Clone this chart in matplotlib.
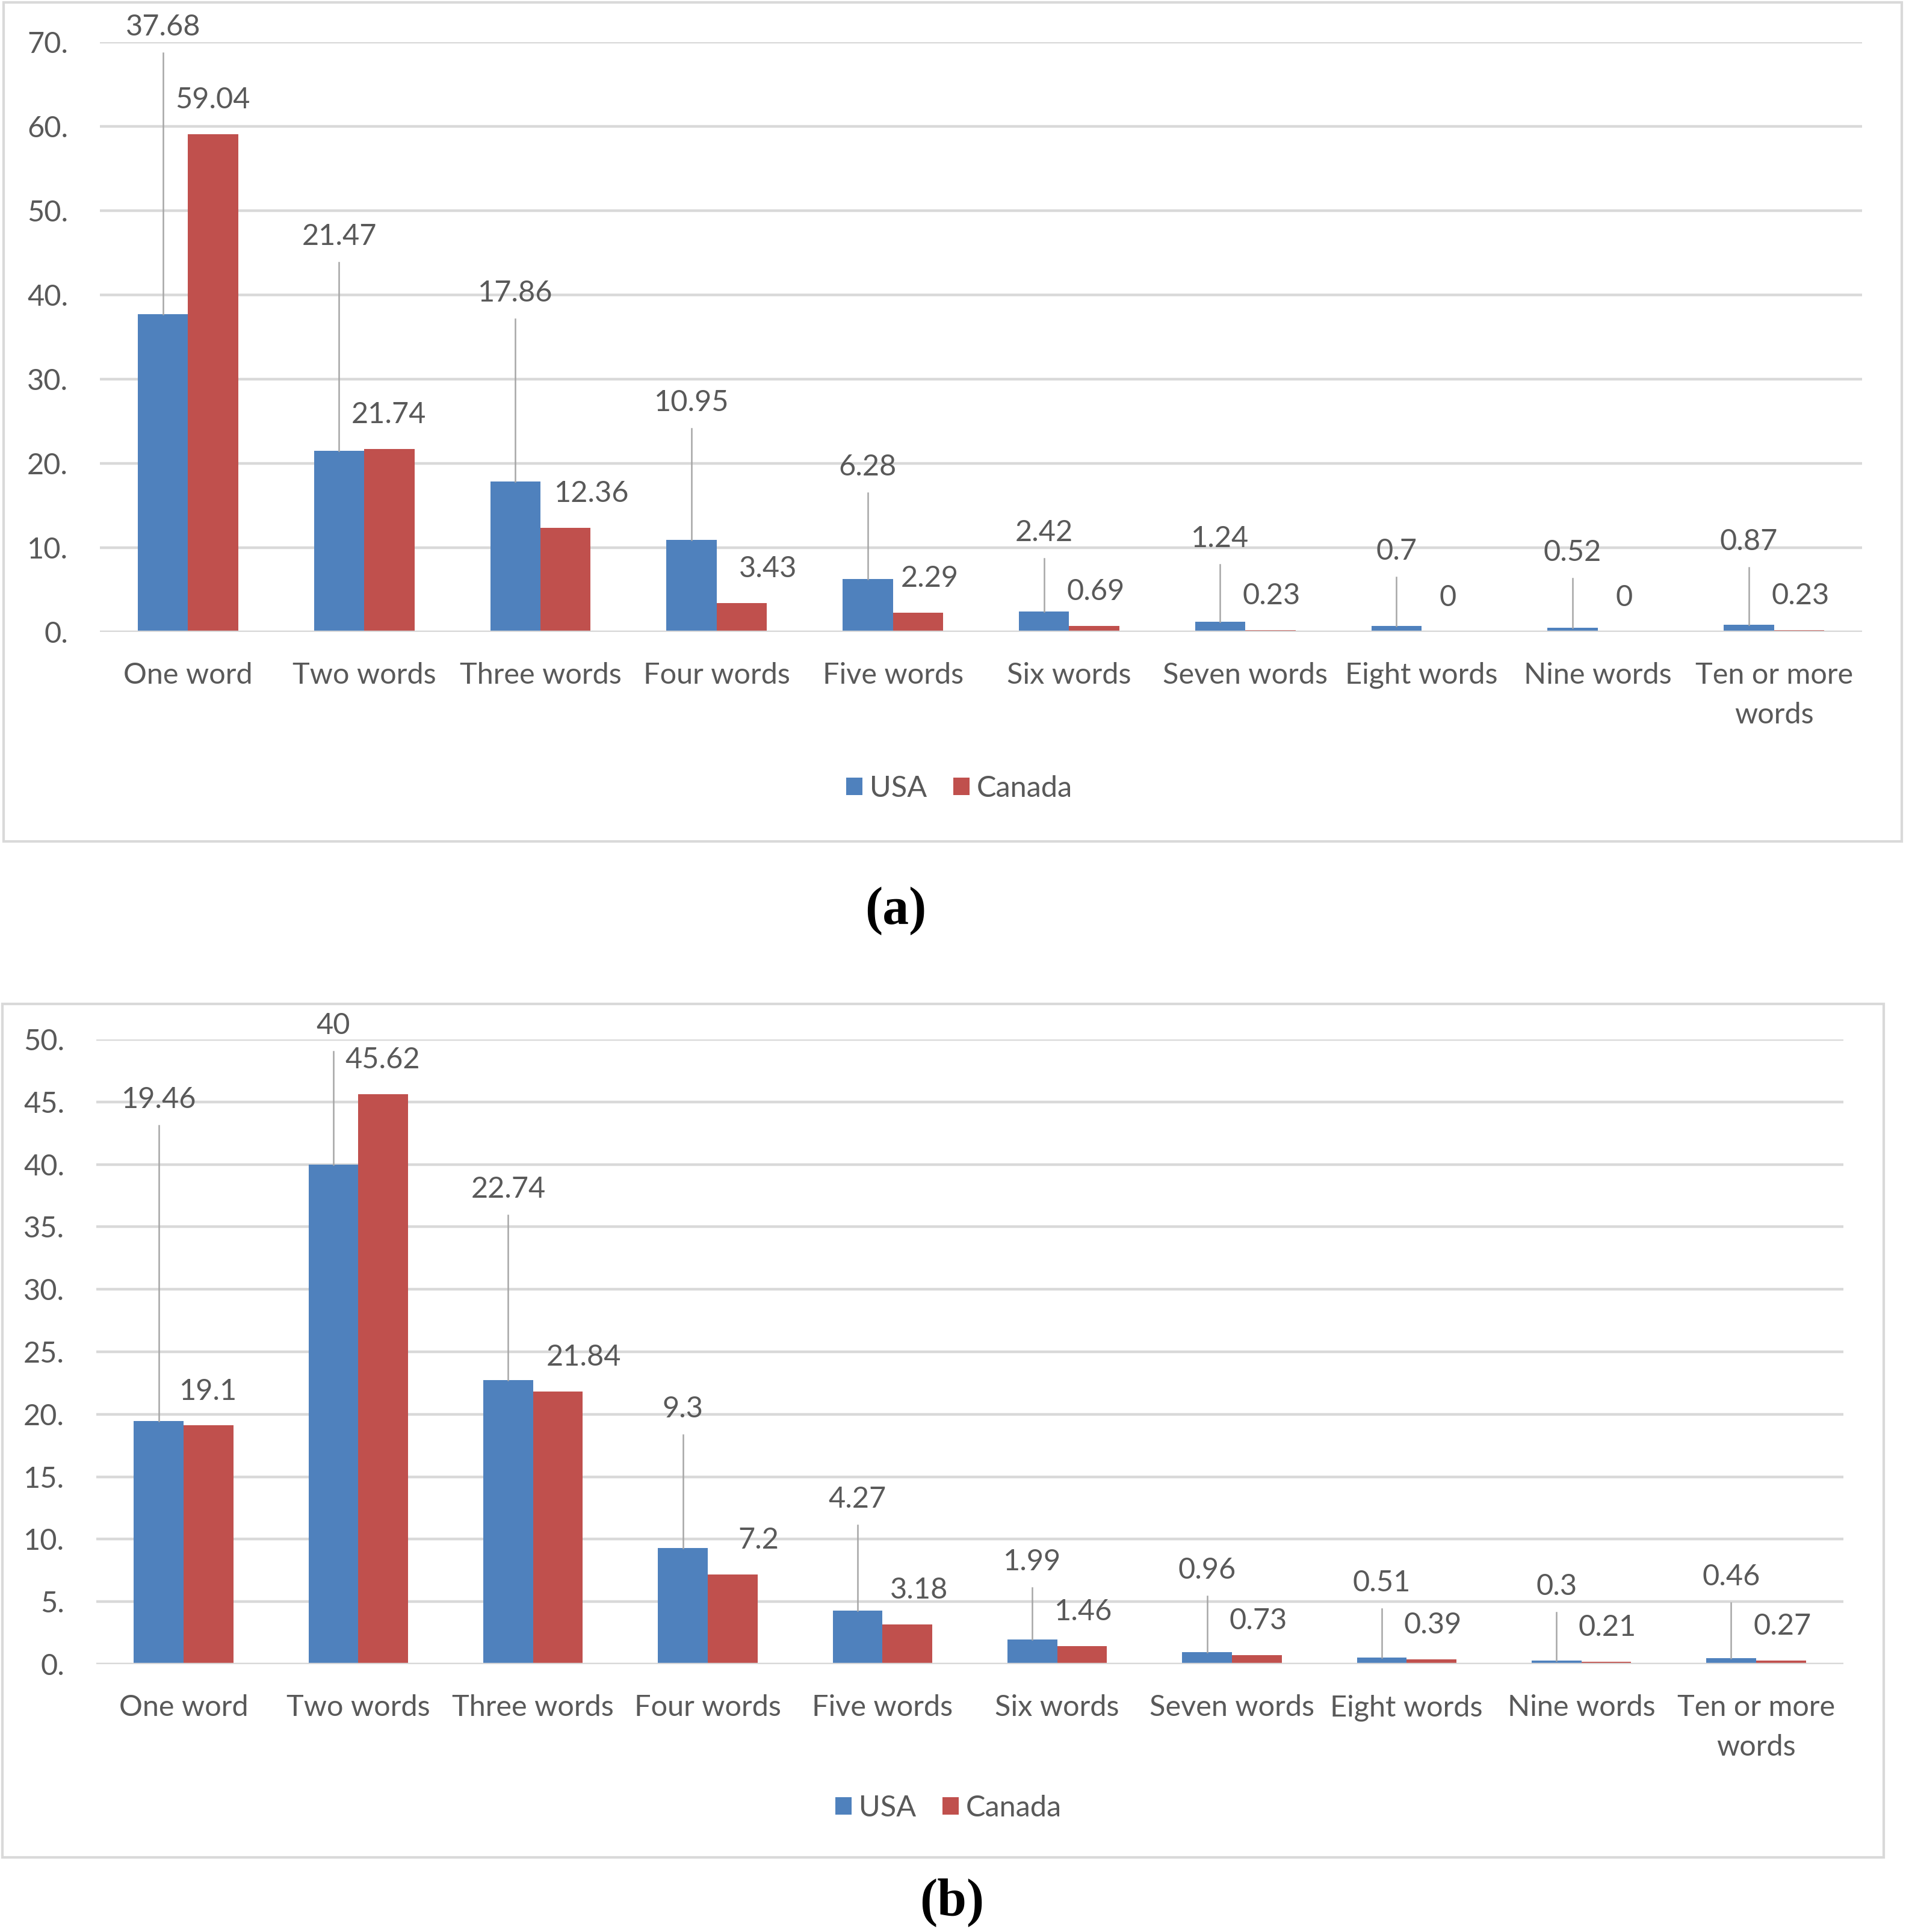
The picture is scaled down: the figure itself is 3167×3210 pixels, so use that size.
import matplotlib.pyplot as plt
from matplotlib.patches import Rectangle

plt.rcParams['font.family'] = ['Lato', 'DejaVu Sans']

categories = ['One word', 'Two words', 'Three words', 'Four words', 'Five words',
              'Six words', 'Seven words', 'Eight words', 'Nine words', 'Ten or more\nwords']

# panel (a)
usa_a = [37.68, 21.47, 17.86, 10.95, 6.28, 2.42, 1.24, 0.7, 0.52, 0.87]
canada_a = [59.04, 21.74, 12.36, 3.43, 2.29, 0.69, 0.23, 0, 0, 0.23]
usa_a_txt = ['37.68', '21.47', '17.86', '10.95', '6.28', '2.42', '1.24', '0.7', '0.52', '0.87']
canada_a_txt = ['59.04', '21.74', '12.36', '3.43', '2.29', '0.69', '0.23', '0', '0', '0.23']

# panel (b)
usa_b = [19.46, 40, 22.74, 9.3, 4.27, 1.99, 0.96, 0.51, 0.3, 0.46]
canada_b = [19.1, 45.62, 21.84, 7.2, 3.18, 1.46, 0.73, 0.39, 0.21, 0.27]
usa_b_txt = ['19.46', '40', '22.74', '9.3', '4.27', '1.99', '0.96', '0.51', '0.3', '0.46']
canada_b_txt = ['19.1', '45.62', '21.84', '7.2', '3.18', '1.46', '0.73', '0.39', '0.21', '0.27']

# where the USA labels were dragged to (data units), and sideways shift of Canada labels
usa_lab_a = [71.8, 46.9, 40.2, 27.2, 19.6, 11.8, 11.1, 9.6, 9.4, 10.7]
usa_lab_b = [45.2, 51.1, 38.0, 20.4, 13.2, 8.2, 7.5, 6.5, 6.2, 7.0]
can_dx = [0.14, 0.14, 0.29, 0.29, 0.21, 0.15, 0.15, 0.15, 0.15, 0.15]

BLUE = '#4F81BD'
RED = '#C0504D'
GRID = '#D9D9D9'
TXT = '#595959'
LEAD = '#A6A6A6'
FS = 35

W, H = 3167, 3210
fig = plt.figure(figsize=(W / 100, H / 100), dpi=100)


def px_axes(l, t, r, b):
    return fig.add_axes([l / W, 1 - b / H, (r - l) / W, (b - t) / H])


def draw_panel(ax, usa, can, usa_txt, can_txt, usa_lab, ymax, step, ax_h_px):
    x = list(range(len(categories)))
    bw = 0.285
    b1 = ax.bar([i - bw / 2 for i in x], usa, bw, color=BLUE, label='USA', zorder=3)
    b2 = ax.bar([i + bw / 2 for i in x], can, bw, color=RED, label='Canada', zorder=3)
    ax.set_xlim(-0.5, len(x) - 0.5)
    ax.set_ylim(0, ymax)
    ticks = list(range(0, ymax + 1, step))
    ax.set_yticks(ticks)
    ax.set_yticklabels([f'{t}.' for t in ticks])
    ax.set_xticks(x)
    ax.set_xticklabels(categories, linespacing=1.6)
    ax.tick_params(axis='y', length=0, pad=38, labelsize=FS, labelcolor=TXT)
    ax.tick_params(axis='x', length=0, pad=36, labelsize=FS, labelcolor=TXT)
    ax.grid(axis='y', color=GRID, lw=3.2, zorder=0)
    ax.set_axisbelow(True)
    ax.axhline(0, color=GRID, lw=3.2, zorder=3.5)
    for s in ax.spines.values():
        s.set_visible(False)
    gap = 43 / (ax_h_px / ymax)
    for i in x:
        xu = i - bw / 2
        ax.text(xu, usa_lab[i], usa_txt[i], ha='center', va='center',
                fontsize=FS, color=TXT, zorder=5)
        ax.plot([xu, xu], [usa[i], usa_lab[i] - gap], color=LEAD, lw=1.8, zorder=4)
        ax.annotate(can_txt[i], xy=(i + can_dx[i], can[i]), xytext=(0, 41),
                    textcoords='offset points', ha='center', va='center',
                    fontsize=FS, color=TXT, zorder=5)
    return b1, b2


ax_a = px_axes(166, 70, 3094, 1050)
h_a = draw_panel(ax_a, usa_a, canada_a, usa_a_txt, canada_a_txt, usa_lab_a, 70, 10, 980)
ax_b = px_axes(160, 1727, 3063, 2765)
h_b = draw_panel(ax_b, usa_b, canada_b, usa_b_txt, canada_b_txt, usa_lab_b, 50, 5, 1038)

for cx, cy in [(1594, 1310), (1576, 3004)]:
    fig.legend(h_a, ['USA', 'Canada'], loc='center', bbox_to_anchor=(cx / W, 1 - cy / H),
               ncol=2, frameon=False, fontsize=FS, labelcolor=TXT,
               handlelength=0.55, handleheight=0.55, handletextpad=0.25, columnspacing=0.9)

# chart borders
for l, t, r, b in [(6, 4, 3160, 1398), (4, 1668, 3130, 3086)]:
    fig.patches.append(Rectangle((l / W, 1 - b / H), (r - l) / W, (b - t) / H,
                                 transform=fig.transFigure, fill=False,
                                 edgecolor=GRID, lw=3, zorder=0))

fig.text(1488 / W, 1 - 1514 / H, '(a)', ha='center', va='center', fontsize=63,
         fontweight='bold', family='Liberation Serif')
fig.text(1582 / W, 1 - 3161 / H, '(b)', ha='center', va='center', fontsize=63,
         fontweight='bold', family='Liberation Serif')

fig.savefig('out.png', dpi=100, facecolor='white')
